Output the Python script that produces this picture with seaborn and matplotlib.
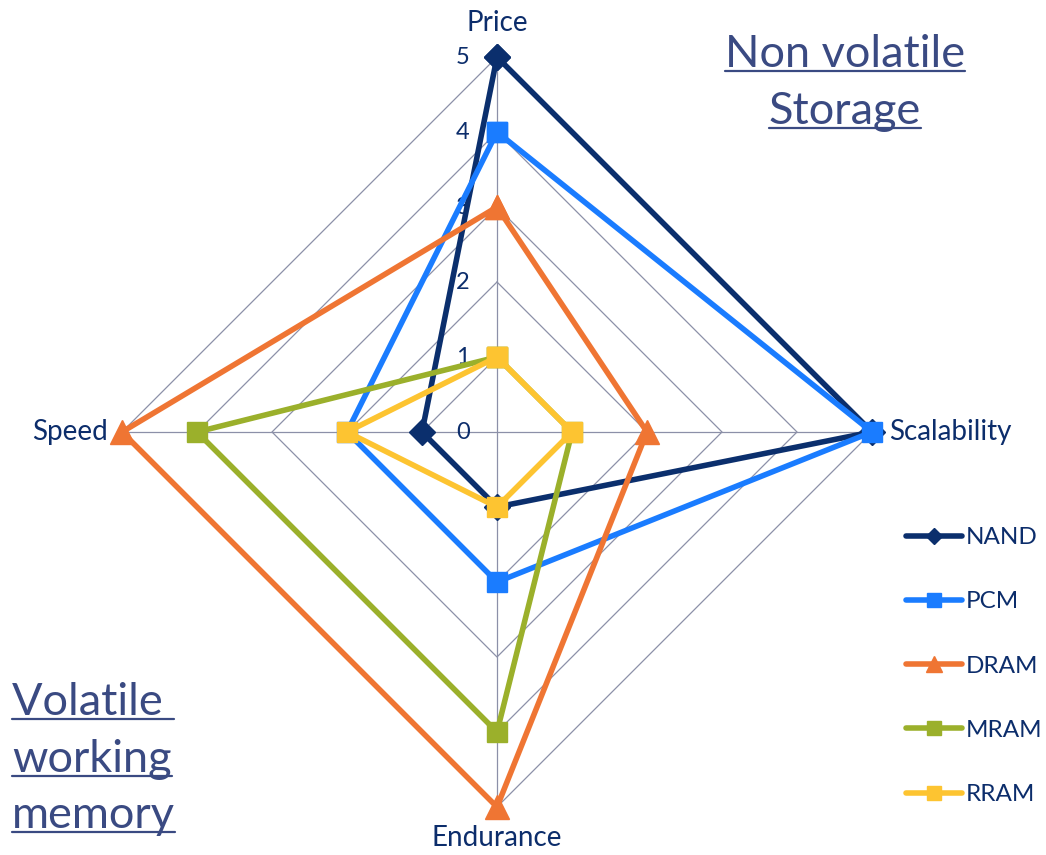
import numpy as np
import pandas as pd
import matplotlib.pyplot as plt
import seaborn as sns
from matplotlib.lines import Line2D

# --- Data ---
axis_names = ["Price", "Scalability", "Endurance", "Speed"]
series_names = ["NAND", "PCM", "DRAM", "MRAM", "RRAM"]
nand = [5, 5, 1, 1]
pcm = [4, 5, 2, 2]
dram = [3, 2, 5, 5]
mram = [1, 1, 4, 4]
rram = [1, 1, 1, 2]
ring_levels = [1, 2, 3, 4, 5]
tick_values = [0, 1, 2, 3, 4, 5]

colors = ["#0b2f6d", "#1a7cff", "#ef7533", "#9bb02b", "#fdc431"]
markers = ["D", "s", "^", "s", "s"]
marker_sizes = [13, 15, 17, 15, 15]

TEXT = "#0c2d6b"
TITLE = "#3a4a82"
GRID = "#8c90a8"

sns.set_theme(style="white")
plt.rcParams["font.family"] = ["Lato", "DejaVu Sans"]

fig = plt.figure(figsize=(10.46, 8.55), dpi=100)
W, H = 1046, 855
cx, cy, R = 497, 432, 375
ax = fig.add_axes([(cx - R) / W, (H - cy - R) / H, 2 * R / W, 2 * R / H], projection="polar")
ax.set_theta_offset(np.pi / 2)
ax.set_theta_direction(-1)
ax.set_ylim(0, 5)
ax.grid(False)
ax.set_xticks([])
ax.set_yticks([])
ax.spines["polar"].set_visible(False)
ax.patch.set_alpha(0)

theta = np.linspace(0, 2 * np.pi, len(axis_names), endpoint=False)
closed_theta = np.append(theta, 2 * np.pi)

# --- Polygon grid ---
for lvl in ring_levels:
    ax.plot(closed_theta, [lvl] * len(closed_theta), color=GRID, lw=0.9, zorder=1)
for t in theta:
    ax.plot([t, t], [0, max(ring_levels)], color=GRID, lw=0.9, zorder=1)

# --- Series ---
for name, vals, c, m, ms in zip(series_names, [nand, pcm, dram, mram, rram], colors, markers, marker_sizes):
    df = pd.DataFrame({"theta": closed_theta, "value": vals + vals[:1]})
    sns.lineplot(data=df, x="theta", y="value", sort=False, estimator=None,
                 color=c, marker=m, markersize=ms, markeredgecolor=c, markeredgewidth=1,
                 linewidth=4, label=name, ax=ax, zorder=3, clip_on=False)
ax.set_xlabel("")
ax.set_ylabel("")

# --- Radial tick labels ---
for v in tick_values:
    ax.annotate(str(v), (0, v), textcoords="offset pixels", xytext=(-34, 0),
                ha="center", va="center", fontsize=17, color=TEXT, zorder=2)

# --- Category labels ---
offsets = [(0, 34, "center", "center"), (17, 0, "left", "center"),
           (0, -31, "center", "center"), (-14, 0, "right", "center")]
for t, lab, (dx, dy, ha, va) in zip(theta, axis_names, offsets):
    ax.annotate(lab, (t, 5), textcoords="offset pixels", xytext=(dx, dy),
                ha=ha, va=va, fontsize=20, color=TEXT)

# --- Legend ---
ax.legend(loc="upper left", bbox_to_anchor=(906 / W, 1 - 527 / H), bbox_transform=fig.transFigure,
          frameon=False, fontsize=17.5, handlelength=2.3, handletextpad=0.15, labelspacing=1.78,
          borderpad=0, borderaxespad=0, markerscale=0.65, labelcolor=TEXT)

# --- Underlined titles ---
titles = [("Non volatile", 845, 67, "center"), ("Storage", 845, 124, "center"),
          ("Volatile ", 12, 715, "left"), ("working", 12, 772, "left"), ("memory", 12, 828, "left")]
texts = []
for s, x, y, ha in titles:
    texts.append(fig.text(x / W, 1 - y / H, s, ha=ha, va="baseline", fontsize=32.5, color=TITLE))
fig.canvas.draw()
renderer = fig.canvas.get_renderer()
for t, (s, x, y, ha) in zip(texts, titles):
    bb = t.get_window_extent(renderer)
    yl = 1 - (y + 4) / H
    fig.add_artist(Line2D([bb.x0 / W, bb.x1 / W], [yl, yl], color=TITLE, lw=1.6, transform=fig.transFigure))

fig.savefig("out.png", dpi=100)
plt.close(fig)
